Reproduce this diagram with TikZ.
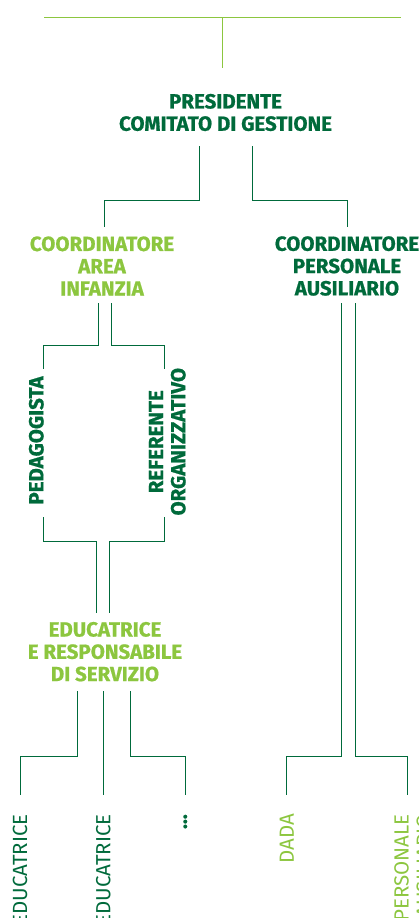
\documentclass[tikz,border=0pt]{standalone}
\usepackage{fontspec}
\setmainfont{Fira Sans}[BoldFeatures={FakeBold=0.8}]
\usepackage{xcolor}
\definecolor{darkgreen}{HTML}{006A3B}
\definecolor{lightgreen}{HTML}{8CC63F}

\begin{document}
\begin{tikzpicture}[x=1pt,y=1pt,
  link/.style={draw=darkgreen,line width=1pt},
  toplink/.style={draw=lightgreen,line width=1pt},
  head/.style={inner sep=0pt,align=center,font=\fontsize{20.5}{22.3}\selectfont\bfseries},
  side/.style={head,rotate=90},
  leaf/.style={inner sep=0pt,rotate=90,anchor=east,font=\fontsize{20.5}{22.3}\selectfont}]
 \clip (0,0) rectangle (419,-918);

 % top
 \coordinate (topl) at (44,-17.3);
 \coordinate (topr) at (401,-17.3);
 \coordinate (topm) at (222.7,-17.3);
 \coordinate (topd) at (222.7,-67.7);
 \draw[toplink] (topl) -- (topr);
 \draw[toplink] (topm) -- (topd);

 \node[head,darkgreen] (pres) at (225.5,-112.5) {PRESIDENTE\\COMITATO DI GESTIONE};
 \node[head,lightgreen] (coarea) at (102,-266) {COORDINATORE\\AREA\\INFANZIA};
 \node[head,darkgreen] (copers) at (347,-266) {COORDINATORE\\PERSONALE\\AUSILIARIO};
 \node[side,darkgreen] (peda) at (36.3,-440.5) {PEDAGOGISTA};
 \node[side,darkgreen] (refe) at (167.3,-441.7) {REFERENTE\\ORGANIZZATIVO};
 \node[head,lightgreen] (resp) at (105,-651.7) {EDUCATRICE\\E RESPONSABILE\\DI SERVIZIO};

 \node[leaf,darkgreen] (edu1) at (20,-814) {EDUCATRICE};
 \node[leaf,darkgreen] (edu2) at (103.3,-814) {EDUCATRICE};
 \node[leaf,darkgreen] (dots) at (185.3,-814) {\textbf{...}};
 \node[leaf,lightgreen] (dada) at (286.7,-814) {DADA};
 \node[leaf,lightgreen,align=right,anchor=north east] (ausil) at (394,-814) {PERSONALE\\AUSILIARIO};

 % presidente
 \coordinate (pres-l) at (199.3,-146);
 \coordinate (pres-r) at (252,-146);
 \coordinate (coarea-in) at (104,-226.7);
 \coordinate (copers-in) at (347.3,-226.7);
 \draw[link] (pres-l) -- ++(0,-54) -| (coarea-in);
 \draw[link] (pres-r) -- ++(0,-54) -| (copers-in);

 % area infanzia
 \coordinate (coarea-l) at (98.3,-303);
 \coordinate (coarea-r) at (111.7,-303);
 \coordinate (peda-in) at (43.3,-369.3);
 \coordinate (refe-in) at (164.3,-369.3);
 \draw[link] (coarea-l) -- ++(0,-42) -| (peda-in);
 \draw[link] (coarea-r) -- ++(0,-42) -| (refe-in);

 \coordinate (peda-out) at (43.3,-517.3);
 \coordinate (refe-out) at (164.3,-517.3);
 \coordinate (resp-l) at (96.3,-613.3);
 \coordinate (resp-r) at (109.3,-613.3);
 \draw[link] (peda-out) -- ++(0,-24.4) -| (resp-l);
 \draw[link] (refe-out) -- ++(0,-24.4) -| (resp-r);

 % educatrici
 \coordinate (resp-o1) at (77.3,-691);
 \coordinate (resp-o2) at (103.3,-691);
 \coordinate (resp-o3) at (130,-691);
 \coordinate (edu1-in) at (20,-795);
 \coordinate (edu2-in) at (103.3,-795);
 \coordinate (dots-in) at (185.3,-795);
 \draw[link] (resp-o1) -- ++(0,-65.7) -| (edu1-in);
 \draw[link] (resp-o2) -- (edu2-in);
 \draw[link] (resp-o3) -- ++(0,-65.7) -| (dots-in);

 % personale ausiliario
 \coordinate (copers-l) at (341.7,-303);
 \coordinate (copers-r) at (355,-303);
 \coordinate (dada-in) at (286.7,-795);
 \coordinate (ausil-in) at (407.7,-795);
 \draw[link] (copers-l) -- ++(0,-453.7) -| (dada-in);
 \draw[link] (copers-r) -- ++(0,-453.7) -| (ausil-in);
\end{tikzpicture}
\end{document}
